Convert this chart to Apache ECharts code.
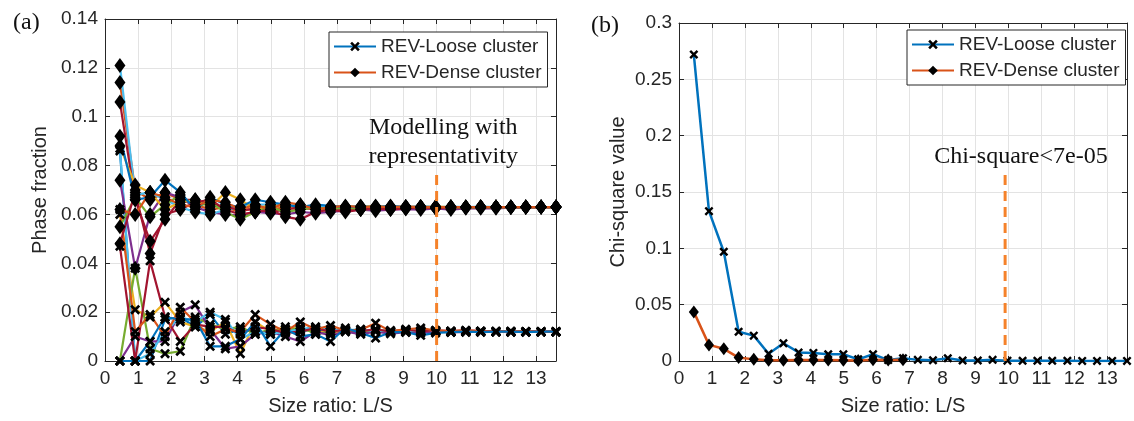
<!DOCTYPE html>
<html>
<head>
<meta charset="utf-8">
<script src="https://cdn.jsdelivr.net/npm/echarts@6/dist/echarts.min.js"></script>
<style>
html,body{margin:0;padding:0;background:#fff;}
#chart{width:1134px;height:421px;}
</style>
</head>
<body>
<div id="chart"></div>
<script>
// Size ratio L/S (x positions of samples)
const xRatio = [0.45,0.91,1.36,1.81,2.27,2.72,3.17,3.63,4.08,4.53,4.99,5.44,5.89,6.35,6.80,7.25,7.71,8.16,8.61,9.07,9.52,9.97,10.43,10.88,11.33,11.79,12.24,12.69,13.15,13.60];
const xTicks = [0,1,2,3,4,5,6,7,8,9,10,11,12,13];

// (a) Phase fraction, REV-Loose cluster realisations
const loose1 = [0.086,0.000,0.000,0.017,0.018,0.014,0.019,0.011,0.013,0.012,0.011,0.013,0.012,0.013,0.012,0.0125,0.012,0.0125,0.012,0.0122,0.012,0.0122,0.012,0.0122,0.012,0.012,0.012,0.012,0.012,0.012];
const loose2 = [0.060,0.021,0.018,0.024,0.016,0.014,0.012,0.016,0.003,0.016,0.012,0.014,0.013,0.012,0.0115,0.012,0.0118,0.013,0.012,0.0125,0.012,0.012,0.0118,0.012,0.012,0.012,0.012,0.012,0.012,0.012];
const loose3 = [0.000,0.038,0.005,0.003,0.004,0.018,0.015,0.013,0.014,0.011,0.013,0.012,0.014,0.011,0.012,0.0125,0.012,0.0125,0.0118,0.012,0.0122,0.012,0.0122,0.012,0.0122,0.012,0.012,0.012,0.012,0.012];
const loose4 = [0.000,0.010,0.008,0.008,0.020,0.023,0.013,0.005,0.006,0.011,0.012,0.010,0.008,0.012,0.0105,0.012,0.011,0.012,0.0112,0.0118,0.0115,0.012,0.0118,0.0118,0.012,0.012,0.0118,0.012,0.012,0.012];
const loose5 = [0.087,0.000,0.003,0.012,0.018,0.016,0.020,0.017,0.009,0.012,0.011,0.012,0.013,0.014,0.013,0.0125,0.013,0.0122,0.0125,0.0122,0.0125,0.0122,0.012,0.0122,0.012,0.012,0.012,0.012,0.012,0.012];
const loose6 = [0.047,0.000,0.041,0.018,0.008,0.015,0.014,0.014,0.011,0.014,0.013,0.0115,0.012,0.0135,0.012,0.0128,0.0122,0.013,0.012,0.0128,0.0122,0.0125,0.0122,0.0125,0.0122,0.0122,0.012,0.012,0.012,0.012];
const loose7 = [0.062,0.012,0.019,0.010,0.022,0.016,0.010,0.013,0.012,0.019,0.015,0.012,0.016,0.013,0.0145,0.0125,0.0128,0.0155,0.0122,0.013,0.0135,0.0125,0.0122,0.0125,0.0122,0.012,0.0122,0.012,0.012,0.012];
const loose8 = [0.000,0.000,0.008,0.018,0.017,0.017,0.006,0.006,0.009,0.016,0.006,0.013,0.010,0.011,0.008,0.0135,0.0115,0.0094,0.0118,0.0118,0.0105,0.0115,0.0118,0.012,0.0118,0.012,0.012,0.0118,0.012,0.012];

// (a) Phase fraction, REV-Dense cluster realisations
const dense1 = [0.114,0.070,0.066,0.069,0.066,0.064,0.062,0.063,0.061,0.063,0.062,0.063,0.062,0.063,0.062,0.0625,0.063,0.062,0.0628,0.0625,0.063,0.0628,0.0625,0.063,0.0628,0.063,0.0628,0.063,0.063,0.063];
const dense2 = [0.074,0.038,0.060,0.069,0.067,0.063,0.061,0.060,0.0595,0.061,0.0605,0.060,0.061,0.0605,0.061,0.0615,0.062,0.0615,0.062,0.0622,0.062,0.0625,0.062,0.0625,0.0625,0.0625,0.0628,0.0628,0.063,0.063];
const dense3 = [0.121,0.068,0.069,0.066,0.063,0.061,0.060,0.062,0.063,0.064,0.064,0.064,0.063,0.0635,0.063,0.063,0.0635,0.063,0.0632,0.063,0.0632,0.063,0.0632,0.063,0.0632,0.063,0.063,0.063,0.063,0.063];
const dense4 = [0.106,0.066,0.049,0.058,0.066,0.066,0.064,0.063,0.062,0.062,0.061,0.062,0.063,0.062,0.0625,0.062,0.0625,0.063,0.0625,0.063,0.0625,0.063,0.0628,0.0628,0.063,0.063,0.063,0.063,0.063,0.063];
const dense5 = [0.088,0.072,0.069,0.062,0.065,0.066,0.063,0.069,0.066,0.062,0.064,0.063,0.064,0.062,0.063,0.0632,0.063,0.0635,0.063,0.0632,0.063,0.0632,0.063,0.063,0.063,0.063,0.063,0.063,0.063,0.063];
const dense6 = [0.055,0.067,0.059,0.064,0.068,0.063,0.065,0.061,0.058,0.061,0.063,0.061,0.062,0.063,0.062,0.063,0.062,0.0625,0.063,0.0625,0.063,0.0625,0.063,0.0628,0.063,0.063,0.063,0.063,0.063,0.063];
const dense7 = [0.092,0.066,0.067,0.074,0.069,0.062,0.067,0.064,0.063,0.066,0.065,0.064,0.063,0.064,0.0635,0.063,0.0632,0.063,0.0635,0.063,0.0632,0.063,0.063,0.063,0.063,0.063,0.063,0.063,0.063,0.063];
const dense8 = [0.048,0.069,0.044,0.060,0.062,0.065,0.066,0.062,0.060,0.061,0.062,0.059,0.058,0.061,0.062,0.061,0.062,0.0625,0.062,0.0625,0.063,0.0625,0.063,0.063,0.063,0.063,0.063,0.063,0.063,0.063];
const dense9 = [0.062,0.060,0.069,0.067,0.064,0.063,0.066,0.065,0.062,0.064,0.062,0.065,0.064,0.062,0.063,0.0635,0.063,0.0632,0.063,0.0632,0.063,0.063,0.063,0.063,0.063,0.063,0.063,0.063,0.063,0.063];

// (b) Chi-square value
const chiLoose = [0.272,0.133,0.097,0.026,0.0225,0.0064,0.0158,0.0076,0.0072,0.006,0.006,0.0015,0.006,0.0008,0.0025,0.001,0.0006,0.0025,0.0005,0.0005,0.001,0.0003,0.0002,0.0002,0.0002,0.0002,0.0001,0.0001,0.0001,0.0001];
const chiDense = [0.0436,0.0143,0.0108,0.003,0.0015,0.0006,0.0006,0.0008,0.0008,0.0008,0.0007,0.0005,0.0012,0.0008,0.0012];

// threshold markers
const repLineA = [[10,0],[10,0.077]];
const repLineB = [[9.9,0],[9.9,0.17]];
const annoA = [[10.2,0.0896]];
const annoB = [[10.38,0.1816]];

const LEG_LOOSE = 'REV-Loose cluster';
const LEG_DENSE = 'REV-Dense cluster';

const C = ['#0072BD','#D95319','#EDB120','#7E2F8E','#77AC30','#4DBEEE','#A2142F'];
const CROSS = 'path://M0,1.9 L1.9,0 L5,3.1 L8.1,0 L10,1.9 L6.9,5 L10,8.1 L8.1,10 L5,6.9 L1.9,10 L0,8.1 L3.1,5 Z';
const SANS = 'Liberation Sans, Arial, sans-serif';
const SERIF = 'Liberation Serif, Times New Roman, serif';
const TXT = '#262626';

function pts(vals){ return vals.map((v,i)=>[xRatio[i], v]); }

function lineSeries(name, vals, color, isDense, gi, lw){
  return {
    name: name, type: 'line', xAxisIndex: gi*2, yAxisIndex: gi*2,
    data: pts(vals),
    symbol: isDense ? 'diamond' : CROSS,
    symbolSize: isDense ? [11,15] : 10,
    showAllSymbol: true,
    lineStyle: {color: color, width: lw},
    itemStyle: {color: '#000'},
    emphasis: {disabled: true},
    animation: false
  };
}

const looseSets = [loose1,loose2,loose3,loose4,loose5,loose6,loose7,loose8];
const looseCol = [C[0],C[2],C[4],C[3],C[5],C[6],C[1],C[0]];
const denseSets = [dense1,dense2,dense3,dense4,dense5,dense6,dense7,dense8,dense9];
const denseCol = [C[1],C[3],C[5],C[6],C[2],C[4],C[0],C[6],C[1]];

const series = [];
looseSets.forEach((s,i)=>series.push(lineSeries(i===0?LEG_LOOSE:'loose'+(i+1), s, looseCol[i], false, 0, 2.2)));
denseSets.forEach((s,i)=>series.push(lineSeries(i===0?LEG_DENSE:'dense'+(i+1), s, denseCol[i], true, 0, 2.2)));
const sL = lineSeries(LEG_LOOSE, chiLoose, C[0], false, 1, 2.5); sL.symbolSize = 9;
const sD = lineSeries(LEG_DENSE, chiDense, C[1], true, 1, 2.5); sD.symbolSize = [10,13];
series.push(sL, sD);

function dashSeries(data, gi){
  return {type:'line', xAxisIndex: gi*2, yAxisIndex: gi*2, data: data, symbol:'none',
    lineStyle:{color:'#F5822A', width:3, type:[10,6]}, silent:true, animation:false, z:5};
}
series.push(dashSeries(repLineA,0));
series.push(dashSeries(repLineB,1));

function annoSeries(data, gi, text){
  return {type:'scatter', xAxisIndex: gi*2, yAxisIndex: gi*2, data: data, symbolSize: 1,
    itemStyle:{color:'rgba(0,0,0,0)', opacity:1}, silent:true, animation:false, z:6,
    label:{show:true, position:'inside', formatter: text, color:'#111', opacity:1, fontFamily: SERIF, fontSize: 24, lineHeight: 29, align:'center'}};
}
series.push(annoSeries(annoA,0,'Modelling with\nrepresentativity'));
series.push(annoSeries(annoB,1,'Chi-square<7e-05'));

function xAxes(gi){
  const base = {type:'value', gridIndex: gi, min: 0, max: 13.6, interval: 1};
  return [
    Object.assign({}, base, {position:'bottom', name:'Size ratio: L/S', nameLocation:'middle', nameGap: 35,
      nameTextStyle:{fontFamily:SANS, fontSize:20, color:TXT},
      axisLine:{show:true, lineStyle:{color:TXT, width:1}}, axisTick:{show:true, inside:true, length:5, lineStyle:{color:TXT}},
      axisLabel:{fontFamily:SANS, fontSize:19, color:TXT, margin:8, formatter: v => xTicks.indexOf(v)>=0 ? String(v) : ''},
      splitLine:{show:true, lineStyle:{color:'#e3e3e3', width:1}}}),
    Object.assign({}, base, {position:'top', axisLine:{show:true, onZero:false, lineStyle:{color:TXT, width:1}},
      axisTick:{show:true, inside:true, length:5, lineStyle:{color:TXT}}, axisLabel:{show:false}, splitLine:{show:false}})
  ];
}
function yAxes(gi, max, interval, name, gap){
  const base = {type:'value', gridIndex: gi, min: 0, max: max, interval: interval};
  return [
    Object.assign({}, base, {position:'left', name: name, nameLocation:'middle', nameGap: gap, nameRotate: 90,
      nameTextStyle:{fontFamily:SANS, fontSize:20, color:TXT},
      axisLine:{show:true, lineStyle:{color:TXT, width:1}}, axisTick:{show:true, inside:true, length:5, lineStyle:{color:TXT}},
      axisLabel:{fontFamily:SANS, fontSize:19, color:TXT, margin:7},
      splitLine:{show:true, lineStyle:{color:'#e3e3e3', width:1}}}),
    Object.assign({}, base, {position:'right', axisLine:{show:true, onZero:false, lineStyle:{color:TXT, width:1}},
      axisTick:{show:true, inside:true, length:5, lineStyle:{color:TXT}}, axisLabel:{show:false}, splitLine:{show:false}})
  ];
}

function legend(left, top){
  return {data:[LEG_LOOSE, LEG_DENSE], orient:'vertical', left:left, top:top,
    itemWidth:42, itemHeight:12, itemGap:7, padding:[5,6,5,4],
    borderColor:'#262626', borderWidth:1, backgroundColor:'#fff', selectedMode:false,
    textStyle:{fontFamily:SANS, fontSize:19, color:TXT}};
}

const option = {
  animation:false,
  backgroundColor:'#fff',
  title:[
    {text:'(a)', left:8, top:6, textStyle:{fontFamily:SERIF, fontSize:24, fontWeight:'normal', color:'#111'}},
    {text:'(b)', left:586, top:9, textStyle:{fontFamily:SERIF, fontSize:24, fontWeight:'normal', color:'#111'}}
  ],
  grid:[
    {left:105, top:19, width:451, height:342},
    {left:679, top:23, width:448, height:341}
  ],
  xAxis: xAxes(0).concat(xAxes(1)),
  yAxis: yAxes(0, 0.14, 0.02, 'Phase fraction', 55).concat(yAxes(1, 0.3, 0.05, 'Chi-square value', 51)),
  legend:[legend(329,32), legend(907,30)],
  series: series
};

const chart = echarts.init(document.getElementById('chart'), null, {renderer:'canvas'});
chart.setOption(option);
</script>
</body>
</html>
